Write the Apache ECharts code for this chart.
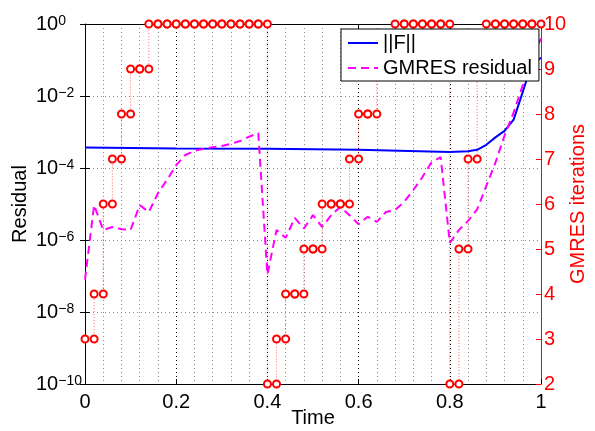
<!DOCTYPE html>
<html><head><meta charset="utf-8">
<script src="https://cdn.jsdelivr.net/npm/echarts@6/dist/echarts.min.js"></script>
<style>html,body{margin:0;padding:0;background:#fff}#c{width:595px;height:431px}</style>
</head><body><div id="c"></div>
<script>
// ---- data ----
const timeSteps = [0,0.02,0.04,0.06,0.08,0.10,0.12,0.14,0.16,0.18,0.20,0.22,0.24,0.26,0.28,0.30,0.32,0.34,0.36,0.38,0.40,0.42,0.44,0.46,0.48,0.50,0.52,0.54,0.56,0.58,0.60,0.62,0.64,0.66,0.68,0.70,0.72,0.74,0.76,0.78,0.80,0.82,0.84,0.86,0.88,0.90,0.92,0.94,0.96,0.98,1.00];
// GMRES iterations for each time step interval [t_k, t_k+1]
const iterations = [3,4,6,7,8,9,9,10,10,10,10,10,10,10,10,10,10,10,10,10,2,3,4,4,5,5,6,6,6,7,8,8,9,9,10,10,10,10,10,10,2,5,7,9,10,10,10,10,10,10];
// GMRES residual at each time step
const gmresResidual = [7.9e-8,9.3e-6,1.9e-6,2.3e-6,2.0e-6,1.9e-6,9.3e-6,6.0e-6,2.0e-5,4.7e-5,1.2e-4,2.3e-4,3.0e-4,3.4e-4,3.8e-4,4.1e-4,4.7e-4,5.6e-4,7.4e-4,9.3e-4,1.1e-7,1.9e-6,1.15e-6,4.1e-6,2.1e-6,4.9e-6,2.3e-6,4.9e-6,8.3e-6,4.9e-6,2.75e-6,4.4e-6,3.2e-6,6.0e-6,6.8e-6,1.15e-5,2.45e-5,5.6e-5,1.45e-4,2.0e-4,8.3e-7,1.9e-6,3.4e-6,7.1e-6,3.2e-5,1.4e-4,7.9e-4,3.5e-3,2.0e-2,1.0e-1,4.0e-1];
const normFTimes = [0,0.2,0.4,0.6,0.8,0.84,0.86,0.88,0.90,0.92,0.94,0.96,0.97,0.98,0.99,1.0];
const normF = [3.7e-4,3.5e-4,3.4e-4,3.2e-4,2.8e-4,2.9e-4,3.2e-4,4.4e-4,7.1e-4,1.07e-3,2.2e-3,1.3e-2,3.2e-2,6.6e-2,9.3e-2,1.15e-1];
const xTickLabels = ['0','0.2','0.4','0.6','0.8','1'];
const leftTickExponents = ['\u221210','\u22128','\u22126','\u22124','\u22122','0'];
const rightTickLabels = ['2','3','4','5','6','7','8','9','10'];

// ---- build series data ----
const stairs = [];
for (let k = 0; k < iterations.length; k++) {
  stairs.push([timeSteps[k], iterations[k]]);
  stairs.push([timeSteps[k + 1], iterations[k]]);
}
const residualData = timeSteps.map((t, i) => [t, gmresResidual[i]]);
const normFData = normFTimes.map((t, i) => [t, normF[i]]);

const FONT = '"Liberation Sans", Arial, Helvetica, sans-serif';
const chart = echarts.init(document.getElementById('c'), null, {renderer: 'canvas'});
chart.setOption({
  animation: false,
  backgroundColor: '#fff',
  textStyle: {fontFamily: FONT},
  grid: {left: 85, right: 54, top: 24, bottom: 47, containLabel: false, outerBoundsMode: 'none'},
  legend: {
    data: ['||F||', 'GMRES residual'],
    orient: 'vertical', left: 341, top: 29,
    itemWidth: 30, itemHeight: 14, itemGap: 5,
    padding: [4, 7, 3, 6],
    backgroundColor: '#fff', borderColor: '#000', borderWidth: 1, borderRadius: 0,
    itemStyle: {opacity: 0},
    textStyle: {fontSize: 20, color: '#000', fontFamily: FONT, lineHeight: 20},
    z: 20
  },
  xAxis: [{
    type: 'value', min: 0, max: 1, interval: 0.2, position: 'bottom',
    name: 'Time', nameLocation: 'middle', nameGap: 24, nameMoveOverlap: false,
    nameTextStyle: {fontSize: 20, color: '#000', fontFamily: FONT},
    axisLine: {show: true, onZero: false, lineStyle: {color: '#000', width: 1}},
    axisTick: {show: true, inside: true, length: 5, lineStyle: {color: '#000'}},
    axisLabel: {fontSize: 20, color: '#000', margin: 8, fontFamily: FONT,
      formatter: (v) => xTickLabels[Math.round(v / 0.2)]},
    splitLine: {show: true, lineStyle: {color: '#000', type: [1, 3], width: 1}},
    minorTick: {show: false, splitNumber: 5},
    minorSplitLine: {show: true, lineStyle: {color: '#8c8c8c', type: [1, 3], width: 1}}
  }, {
    type: 'value', min: 0, max: 1, interval: 0.2, position: 'top',
    axisLine: {show: true, onZero: false, lineStyle: {color: '#000', width: 1}},
    axisTick: {show: true, inside: true, length: 5, lineStyle: {color: '#000'}},
    axisLabel: {show: false}, splitLine: {show: false}
  }],
  yAxis: [{
    type: 'log', logBase: 10, min: 1e-10, max: 1, interval: 2, position: 'left',
    name: 'Residual', nameLocation: 'middle', nameGap: 55, nameMoveOverlap: false,
    nameTextStyle: {fontSize: 20, color: '#000', fontFamily: FONT},
    axisLine: {show: true, onZero: false, lineStyle: {color: '#000', width: 1}},
    axisTick: {show: true, inside: true, length: 5, lineStyle: {color: '#000'}},
    axisLabel: {
      align: 'left', margin: 49, fontFamily: FONT,
      formatter: (v) => {
        const e = Math.round(Math.log10(v));
        return '{b|10}{e|' + leftTickExponents[(e + 10) / 2] + '}';
      },
      rich: {
        b: {fontSize: 20, color: '#000', fontFamily: FONT, lineHeight: 20, verticalAlign: 'bottom'},
        e: {fontSize: 14, color: '#000', fontFamily: FONT, lineHeight: 14, verticalAlign: 'top', padding: [0, 0, 14, 0]}
      }
    },
    splitLine: {show: true, lineStyle: {color: '#8c8c8c', type: [1, 3], width: 1}}
  }, {
    type: 'value', min: 2, max: 10, interval: 1, position: 'right',
    name: 'GMRES iterations', nameLocation: 'middle', nameGap: 27, nameMoveOverlap: false,
    nameTextStyle: {fontSize: 20, color: '#ff0000', fontFamily: FONT},
    axisLine: {show: true, onZero: false, lineStyle: {color: '#ff0000', width: 1}},
    axisTick: {show: true, inside: true, length: 5, lineStyle: {color: '#ff0000'}},
    axisLabel: {fontSize: 20, color: '#ff0000', margin: 3, fontFamily: FONT,
      formatter: (v) => rightTickLabels[Math.round(v) - 2]},
    splitLine: {show: false}
  }, {
    type: 'log', logBase: 10, min: 1e-10, max: 1, interval: 2, position: 'right',
    axisLine: {show: false},
    axisTick: {show: true, inside: true, length: 5, lineStyle: {color: '#000'}},
    axisLabel: {show: false}, splitLine: {show: false}
  }],
  series: [{
    name: '||F||', type: 'line', xAxisIndex: 0, yAxisIndex: 0,
    data: normFData, symbol: 'none', showSymbol: false,
    lineStyle: {color: '#0000ff', width: 2}, itemStyle: {color: '#0000ff'}, z: 3
  }, {
    name: 'GMRES residual', type: 'line', xAxisIndex: 0, yAxisIndex: 0,
    data: residualData, symbol: 'none', showSymbol: false,
    lineStyle: {color: '#ff00ff', width: 2, type: [8, 5]}, itemStyle: {color: '#ff00ff'}, z: 3
  }, {
    name: 'iterations', type: 'line', xAxisIndex: 0, yAxisIndex: 1,
    data: stairs, symbol: 'emptyCircle', symbolSize: 7, showSymbol: true, clip: false,
    lineStyle: {color: 'rgba(255,0,0,0.6)', width: 1, type: [1, 2]},
    itemStyle: {color: '#ff0000', borderColor: '#ff0000', borderWidth: 1.6}, z: 4
  }]
});
</script></body></html>
